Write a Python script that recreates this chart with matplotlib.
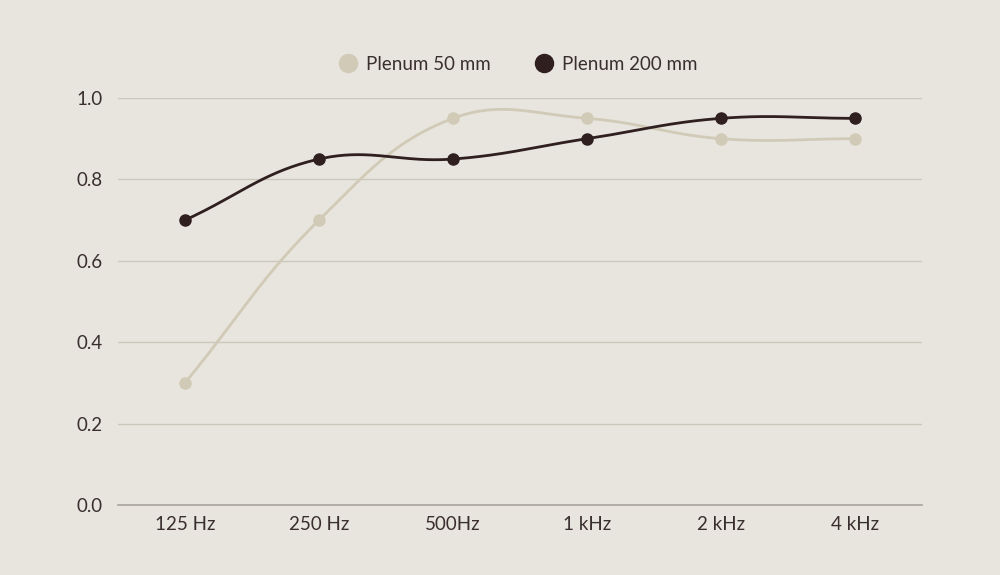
import numpy as np
import matplotlib
matplotlib.use('Agg')
import matplotlib.pyplot as plt
from matplotlib.lines import Line2D

bands = ['125 Hz', '250 Hz', '500Hz', '1 kHz', '2 kHz', '4 kHz']
plenum_50 = [0.3, 0.7, 0.95, 0.95, 0.9, 0.9]
plenum_200 = [0.7, 0.85, 0.85, 0.9, 0.95, 0.95]

BG = '#e8e5de'
C50 = '#d0cab6'
C200 = '#2f1f1f'
TXT = '#3a2f2f'

plt.rcParams['font.family'] = ['Lato', 'DejaVu Sans']


def spline_points(ax, xs, ys, tension=0.4, n=40):
    # chart.js style cubic interpolation, control points computed in pixel space
    pts = ax.transData.transform(np.column_stack([xs, ys]))
    cps = []
    for i in range(len(pts)):
        cur = pts[i]
        prev = pts[i - 1] if i > 0 else cur
        nxt = pts[i + 1] if i < len(pts) - 1 else cur
        d01 = np.hypot(*(cur - prev))
        d12 = np.hypot(*(nxt - cur))
        tot = d01 + d12
        s01 = d01 / tot if tot else 0
        s12 = d12 / tot if tot else 0
        cps.append((cur - tension * s01 * (nxt - prev), cur + tension * s12 * (nxt - prev)))
    out = []
    t = np.linspace(0, 1, n)[:, None]
    for i in range(len(pts) - 1):
        p0, p3 = pts[i], pts[i + 1]
        p1, p2 = cps[i][1], cps[i + 1][0]
        seg = (1 - t) ** 3 * p0 + 3 * (1 - t) ** 2 * t * p1 + 3 * (1 - t) * t ** 2 * p2 + t ** 3 * p3
        out.append(seg if i == 0 else seg[1:])
    out = np.vstack(out)
    return ax.transData.inverted().transform(out)


fig = plt.figure(figsize=(10, 5.75), dpi=100, facecolor=BG)
ax = fig.add_axes([0.118, 70 / 575, 0.804, 407 / 575], facecolor=BG)
x = np.arange(len(bands))
ax.set_xlim(-0.5, len(bands) - 0.5)
ax.set_ylim(0, 1.0)

for spine in ['top', 'right', 'left']:
    ax.spines[spine].set_visible(False)
ax.spines['bottom'].set_color('#a9a59d')
ax.spines['bottom'].set_linewidth(1.2)

ax.set_yticks([0, 0.2, 0.4, 0.6, 0.8, 1.0])
ax.set_yticklabels(['0.0', '0.2', '0.4', '0.6', '0.8', '1.0'])
ax.grid(axis='y', color='#cbc7bd', linewidth=1)
ax.set_axisbelow(True)
ax.set_xticks(x)
ax.set_xticklabels(bands)
ax.tick_params(length=0, colors=TXT, labelsize=13.5)
ax.tick_params(axis='x', pad=8)
ax.tick_params(axis='y', pad=11)

for vals, col, z in [(plenum_50, C50, 3), (plenum_200, C200, 4)]:
    curve = spline_points(ax, x, vals)
    ax.plot(curve[:, 0], curve[:, 1], color=col, linewidth=2, zorder=z, clip_on=False)
    ax.plot(x, vals, 'o', color=col, markersize=8, zorder=z, clip_on=False)

handles = [Line2D([], [], marker='o', linestyle='', color=C50, markersize=13),
           Line2D([], [], marker='o', linestyle='', color=C200, markersize=13)]
fig.legend(handles, ['Plenum 50 mm', 'Plenum 200 mm'], loc='center', bbox_to_anchor=(0.517, 1 - 64 / 575),
           ncol=2, frameon=False, fontsize=13.5, labelcolor=TXT, handletextpad=0.4, columnspacing=2.2,
           handlelength=1.2)

fig.savefig('out.png', dpi=100, facecolor=BG)
